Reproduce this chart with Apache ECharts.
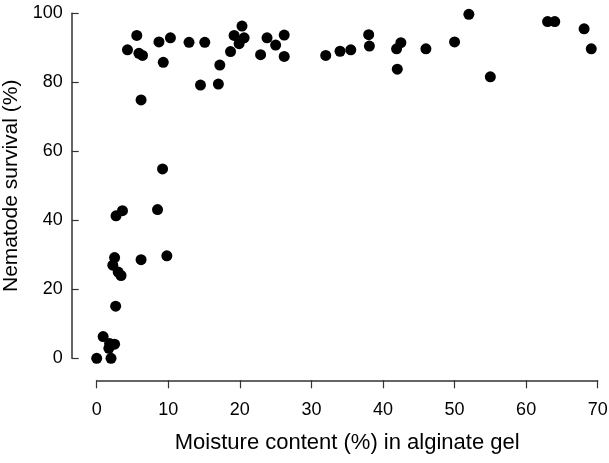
<!DOCTYPE html>
<html>
<head>
<meta charset="utf-8">
<script src="https://cdn.jsdelivr.net/npm/echarts@6/dist/echarts.min.js"></script>
<style>
  html, body { margin: 0; padding: 0; background: #fff; }
  #chart { width: 609px; height: 463px; }
</style>
</head>
<body>
<div id="chart"></div>
<script>
// moisture content (%) of each gel sample
const moisture = [
  0, 2.0, 1.7, 1.8, 2.5, 0.9, 2.65, 3.0, 3.4, 2.25, 2.5, 6.2, 9.8,
  2.7, 3.6, 8.5, 9.2, 6.2, 4.3, 5.6, 5.9, 6.4, 8.7, 9.3, 10.3, 12.9,
  15.1, 14.5, 17.0, 17.2, 18.7, 19.2, 20.3, 20.6, 19.9, 22.9, 23.8, 25.0,
  26.2, 26.2, 32.0, 34.0, 35.5, 38.0, 38.1, 41.9, 42.5, 42.0, 46.0, 50.0,
  52.0, 55.0, 63.0, 64.0, 68.1, 69.1
];
// nematode survival (%) for the same samples
const survival = [
  0, 0, 2.9, 4.3, 4.1, 6.3, 15.1, 25, 24, 27.0, 29.2, 28.6, 29.7,
  41.3, 42.8, 43.1, 54.9, 74.9, 89.4, 93.6, 88.4, 87.8, 91.7, 85.8, 92.9, 91.6,
  91.6, 79.2, 79.5, 85.0, 88.9, 93.6, 96.3, 92.9, 91.2, 88.0, 92.9, 90.8,
  93.7, 87.5, 87.8, 89.0, 89.4, 93.8, 90.5, 89.7, 91.5, 83.8, 89.7, 91.7,
  99.7, 81.6, 97.6, 97.6, 95.5, 89.7
];
const xTicks = [0, 10, 20, 30, 40, 50, 60, 70];
const yTicks = [0, 20, 40, 60, 80, 100];

const chart = echarts.init(document.getElementById("chart"));
const font = "Liberation Sans";

const option = {
  animation: false,
  grid: { left: 96.7, right: 11.3, top: 13.3, bottom: 104.7, containLabel: false, outerBoundsMode: "none" },
  xAxis: {
    type: "value",
    min: xTicks[0],
    max: xTicks[xTicks.length - 1],
    interval: 10,
    offset: 22,
    name: "Moisture content (%) in alginate gel",
    nameLocation: "middle",
    nameGap: 52,
    nameTextStyle: { fontFamily: font, fontSize: 22, color: "#000" },
    axisLine: { show: true, onZero: false, lineStyle: { color: "#333", width: 1.5 } },
    axisTick: { show: true, inside: false, length: 8, lineStyle: { color: "#333", width: 1.2 } },
    axisLabel: { margin: 21, fontFamily: font, fontSize: 18, color: "#000" },
    splitLine: { show: false },
  },
  yAxis: {
    type: "value",
    min: yTicks[0],
    max: yTicks[yTicks.length - 1],
    interval: 20,
    offset: 25,
    name: "Nematode survival (%)",
    nameLocation: "middle",
    nameGap: 43,
    nameTextStyle: { fontFamily: font, fontSize: 21, color: "#000" },
    axisLine: { show: true, onZero: false, lineStyle: { color: "#333", width: 1.5 } },
    axisTick: { show: true, inside: true, length: 7, lineStyle: { color: "#333", width: 1.2 } },
    axisLabel: { margin: 9, fontFamily: font, fontSize: 18, color: "#000" },
    splitLine: { show: false },
  },
  series: [
    {
      type: "scatter",
      symbol: "circle",
      symbolSize: 11,
      itemStyle: { color: "#000", opacity: 1 },
      data: moisture.map((m, i) => [m, survival[i]]),
    },
  ],
};
chart.setOption(option);
</script>
</body>
</html>
